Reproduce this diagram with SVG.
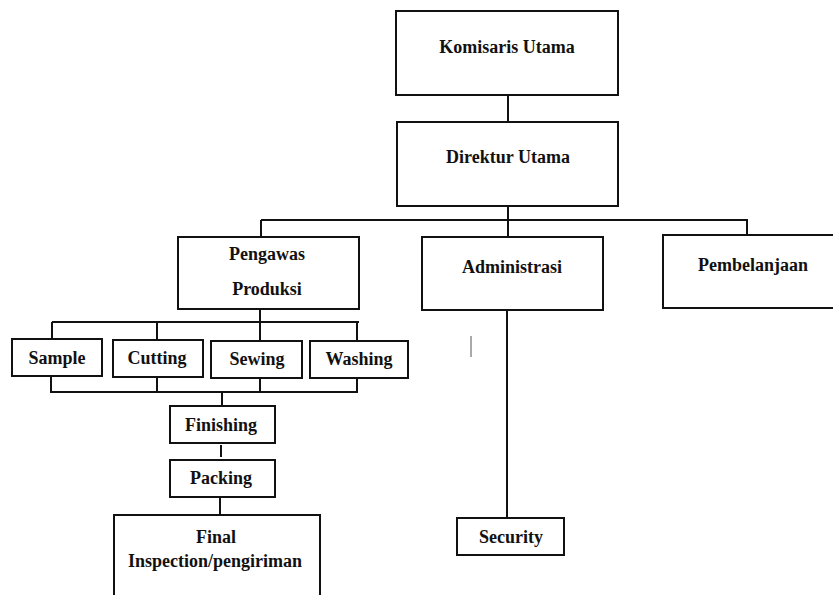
<svg xmlns="http://www.w3.org/2000/svg" width="833" height="595" viewBox="0 0 833 595">
<style>
.box{fill:#fff;stroke:#111;stroke-width:2}
.ln{fill:none;stroke:#111;stroke-width:2}
.t{font-weight:bold;font-size:18px;fill:#111;text-anchor:middle}
</style>
<rect width="833" height="595" fill="#fff"/>
<g id="connectors">
<path class="ln" d="M508 95V122"/>
<path class="ln" d="M508 206V219M261 220V237M261 220H747V235M508 219V237"/>
<path class="ln" d="M507 310V518"/>
<path class="ln" d="M260 309V322M52 322H359M52 322V339M157 322V340M260 322V341M357 322V341"/>
<path class="ln" d="M51 376V392H357V378M157 377V392M260 378V392"/>
<path class="ln" d="M222 392V406"/>
<path class="ln" d="M221 445V457"/>
<path class="ln" d="M220 497V515"/>
<path d="M471 336V357" stroke="#555" stroke-width="1" fill="none"/>
</g>
<g class="t" font-family="Liberation Serif, Times New Roman, serif">
<g id="komisaris"><rect class="box" x="396" y="11" width="222" height="84"/><text x="507" y="53">Komisaris Utama</text></g>
<g id="direktur"><rect class="box" x="397" y="122" width="221" height="84"/><text x="508" y="163">Direktur Utama</text></g>
<g id="pengawas"><rect class="box" x="178" y="237" width="181" height="72"/><text x="267" y="260">Pengawas</text><text x="267" y="295">Produksi</text></g>
<g id="administrasi"><rect class="box" x="422" y="237" width="181" height="73"/><text x="512" y="273">Administrasi</text></g>
<g id="pembelanjaan"><rect class="box" x="663" y="235" width="172" height="73"/><text x="753" y="271">Pembelanjaan</text></g>
<g id="sample"><rect class="box" x="12" y="339" width="90" height="37"/><text x="57" y="364">Sample</text></g>
<g id="cutting"><rect class="box" x="113" y="340" width="90" height="37"/><text x="157" y="364">Cutting</text></g>
<g id="sewing"><rect class="box" x="211" y="341" width="91" height="37"/><text x="257" y="365">Sewing</text></g>
<g id="washing"><rect class="box" x="310" y="341" width="98" height="37"/><text x="359" y="365">Washing</text></g>
<g id="finishing"><rect class="box" x="170" y="406" width="105" height="37"/><text x="221" y="431">Finishing</text></g>
<g id="packing"><rect class="box" x="170" y="460" width="105" height="37"/><text x="221" y="484">Packing</text></g>
<g id="final"><rect class="box" x="114" y="515" width="206" height="90"/><text x="216" y="543">Final</text><text x="215" y="567">Inspection/pengiriman</text></g>
<g id="security"><rect class="box" x="457" y="518" width="107" height="37"/><text x="511" y="543">Security</text></g>
</g>
</svg>
